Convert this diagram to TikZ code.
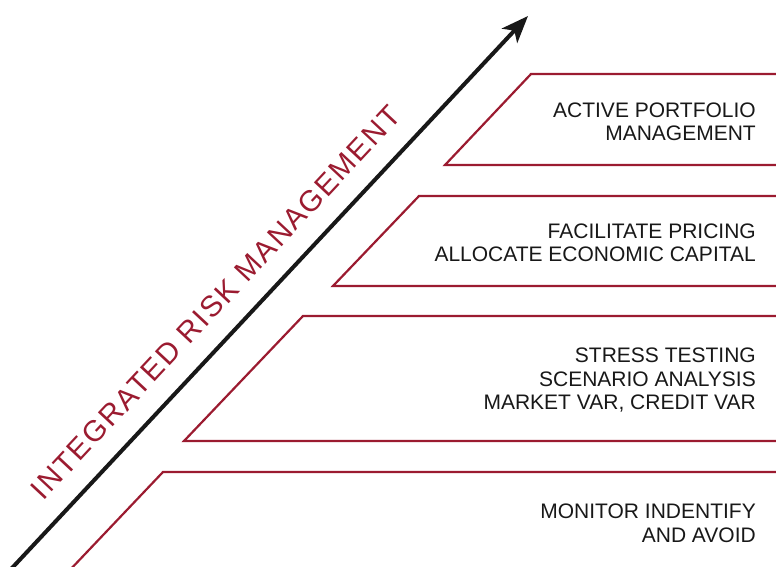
\documentclass[tikz,border=0pt]{standalone}
\usepackage{fontspec}
\setmainfont{Liberation Sans}
\newfontfamily\irmfont[LetterSpace=6]{Liberation Sans}
\usetikzlibrary{arrows.meta}
\definecolor{riskred}{RGB}{155,27,48}
\definecolor{inkblack}{RGB}{24,24,24}

\begin{document}
\begin{tikzpicture}[x=1pt,y=-1pt]
\tikzstyle{stage}=[draw=riskred,line width=2.2pt]
\tikzstyle{stagetext}=[anchor=east,align=right,inner sep=0pt,text=inkblack,font=\fontsize{21}{23.5}\selectfont]
\tikzstyle{axis}=[draw=inkblack,line width=4pt,-{Stealth[length=27pt,width=21pt,inset=7pt]}]
\useasboundingbox (0,0) rectangle (776,567);
\coordinate (start) at (8.3,572);
\coordinate (tip) at (528,16);
\draw[axis] (start) -- node[pos=.445,sloped,above=20pt,inner sep=0pt,text=riskred,font=\irmfont\fontsize{29.5}{32}\selectfont] (irm) {INTEGRATED RISK MANAGEMENT} (tip);
\draw[stage] (782,74) -- (531,74) -- (445,165) -- (782,165);
\draw[stage] (782,196) -- (419,196) -- (333,286) -- (782,286);
\draw[stage] (782,316) -- (303,316) -- (184,441) -- (782,441);
\draw[stage] (782,472) -- (163,472) -- (68,572);
\node[stagetext] (portfolio) at (756,122) {ACTIVE PORTFOLIO\\MANAGEMENT};
\node[stagetext] (pricing) at (756,243) {FACILITATE PRICING\\ALLOCATE ECONOMIC CAPITAL};
\node[stagetext] (stress) at (756,380.5) {STRESS TESTING\\SCENARIO ANALYSIS\\MARKET VAR, CREDIT VAR};
\node[stagetext] (monitor) at (756,523.5) {MONITOR INDENTIFY\\AND AVOID};
\end{tikzpicture}
\end{document}
